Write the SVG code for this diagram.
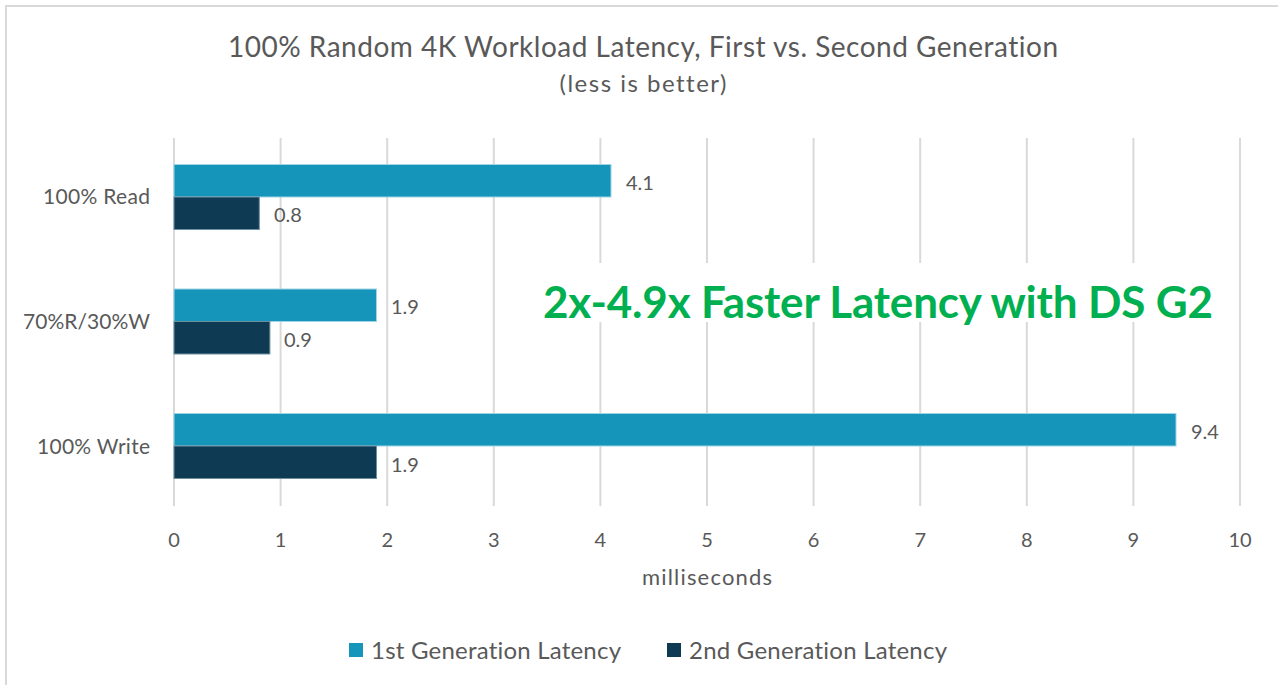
<svg xmlns="http://www.w3.org/2000/svg" width="1278" height="685" viewBox="0 0 1278 685">
<style>
text{font-family:Lato,"Liberation Sans",Arial,sans-serif;fill:#595959;font-variant-ligatures:none}
.grid line{stroke:#d9d9d9;stroke-width:2}
.g1{fill:#1595BA;stroke:#9fd3e6;stroke-width:1}
.g2{fill:#0E3B53;stroke:#6f8fa0;stroke-width:1}
.cat{font-size:21px;text-anchor:end}
.val{font-size:20px}
.tick{font-size:20px;text-anchor:middle}
.leg{font-size:24px}
</style>
<rect x="0" y="0" width="1278" height="685" fill="#ffffff"/>
<path d="M6 685V6H1278" fill="none" stroke="#d9d9d9" stroke-width="2"/>
<g id="title">
<text x="643" y="57" font-size="28" text-anchor="middle" textLength="830">100% Random 4K Workload Latency, First vs. Second Generation</text>
<text x="643" y="92" font-size="24" text-anchor="middle" textLength="167">(less is better)</text>
</g>
<g id="gridlines" class="grid">
<line x1="174" y1="138" x2="174" y2="506"/>
<line x1="280.6" y1="138" x2="280.6" y2="506"/>
<line x1="387.2" y1="138" x2="387.2" y2="506"/>
<line x1="493.8" y1="138" x2="493.8" y2="506"/>
<line x1="600.4" y1="138" x2="600.4" y2="506"/>
<line x1="707" y1="138" x2="707" y2="506"/>
<line x1="813.6" y1="138" x2="813.6" y2="506"/>
<line x1="920.2" y1="138" x2="920.2" y2="506"/>
<line x1="1026.8" y1="138" x2="1026.8" y2="506"/>
<line x1="1133.4" y1="138" x2="1133.4" y2="506"/>
<line x1="1240" y1="138" x2="1240" y2="506"/>
</g>
<g id="cat-read">
<text class="cat" x="150" y="204" textLength="107">100% Read</text>
<rect class="g1" x="174" y="164.5" width="437" height="32.5"/>
<rect class="g2" x="174" y="197" width="85.3" height="32.5"/>
<text class="val" x="626" y="190">4.1</text>
<text class="val" x="274" y="222">0.8</text>
</g>
<g id="cat-mixed">
<text class="cat" x="150" y="329" textLength="127">70%R/30%W</text>
<rect class="g1" x="174" y="289" width="202.5" height="32.5"/>
<rect class="g2" x="174" y="321.5" width="95.9" height="32.5"/>
<text class="val" x="391" y="314">1.9</text>
<text class="val" x="284" y="347">0.9</text>
</g>
<g id="cat-write">
<text class="cat" x="150" y="454" textLength="113">100% Write</text>
<rect class="g1" x="174" y="413.5" width="1002" height="32.5"/>
<rect class="g2" x="174" y="446" width="202.5" height="32.5"/>
<text class="val" x="1191" y="439">9.4</text>
<text class="val" x="391" y="472">1.9</text>
</g>
<g id="axis">
<text class="tick" x="174" y="547">0</text>
<text class="tick" x="280.6" y="547">1</text>
<text class="tick" x="387.2" y="547">2</text>
<text class="tick" x="493.8" y="547">3</text>
<text class="tick" x="600.4" y="547">4</text>
<text class="tick" x="707" y="547">5</text>
<text class="tick" x="813.6" y="547">6</text>
<text class="tick" x="920.2" y="547">7</text>
<text class="tick" x="1026.8" y="547">8</text>
<text class="tick" x="1133.4" y="547">9</text>
<text class="tick" x="1240" y="547">10</text>
<text x="707" y="585" font-size="22" text-anchor="middle" textLength="130">milliseconds</text>
</g>
<g id="callout">
<rect x="530" y="263" width="700" height="59" fill="#ffffff"/>
<text x="543" y="318" font-size="44" font-weight="bold" style="fill:#00B050" textLength="670">2x-4.9x Faster Latency with DS G2</text>
</g>
<g id="legend">
<rect x="349" y="643" width="14" height="14" fill="#1595BA"/>
<text class="leg" x="371" y="659" textLength="250">1st Generation Latency</text>
<rect x="667" y="643" width="14" height="14" fill="#0E3B53"/>
<text class="leg" x="689" y="659" textLength="258">2nd Generation Latency</text>
</g>
</svg>
